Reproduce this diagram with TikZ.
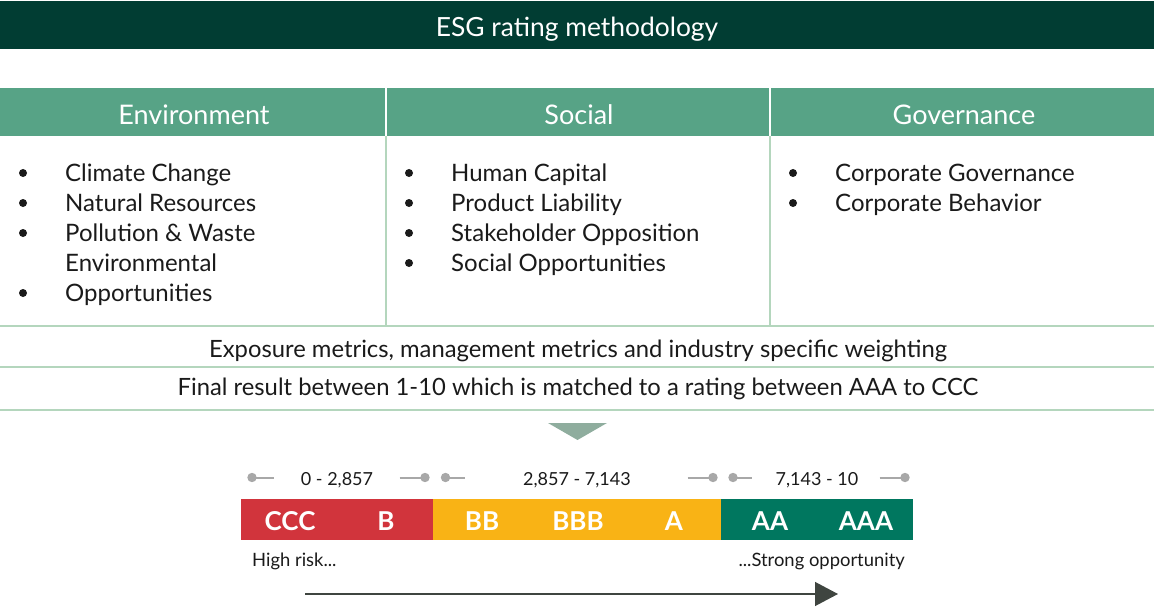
\documentclass[tikz,border=0pt]{standalone}
\usepackage{fontspec}
\setmainfont{Lato}
\usetikzlibrary{arrows.meta}
\definecolor{darkg}{HTML}{013D33}
\definecolor{headg}{HTML}{57A386}
\definecolor{lineg}{HTML}{B4D6BD}
\definecolor{trig}{HTML}{8FAD9E}
\definecolor{redr}{HTML}{D1343C}
\definecolor{yelr}{HTML}{F9B315}
\definecolor{tealr}{HTML}{00775F}
\definecolor{dotg}{HTML}{A8A8A8}
\definecolor{arrg}{HTML}{3F4540}
\definecolor{txt}{HTML}{1A1A1A}
\tikzset{
  hdr/.style={font=\fontsize{27}{30}\selectfont, text=white, anchor=center},
  ttl/.style={font=\fontsize{26.4}{30}\selectfont, text=white, anchor=center},
  item/.style={font=\fontsize{24}{30}\selectfont, text=txt, anchor=base west, inner sep=0pt},
  rowtxt/.style={font=\fontsize{23.8}{27}\selectfont, text=txt, anchor=center},
  rng/.style={font=\fontsize{18}{21}\selectfont, text=txt, anchor=center},
  grade/.style={font=\bfseries\fontsize{26}{29}\selectfont, text=white, anchor=center},
  captxt/.style={font=\fontsize{18.4}{21}\selectfont, text=txt},
  sep/.style={draw=lineg, line width=2.5pt},
  mk/.style={draw=dotg, line width=2pt},
}
\begin{document}
\begin{tikzpicture}[x=1pt,y=-1pt]
\useasboundingbox (0,0) rectangle (1154,607);
% title bar
\fill[darkg] (0,1) rectangle (1154,49);
\node[ttl] (title) at (577,29) {ESG rating methodology};
% header row
\fill[headg] (0,88) rectangle (1154,136);
\draw[white, line width=2pt] (386,88) -- (386,136);
\draw[white, line width=2pt] (770,88) -- (770,136);
\node[hdr] (env) at (194,115) {Environment};
\node[hdr] (soc) at (579,115) {Social};
\node[hdr] (gov) at (964,115) {Governance};
% body dividers
\draw[sep] (386,136) -- (386,326);
\draw[sep] (770,136) -- (770,326);
\draw[sep] (0,326) -- (1154,326);
\draw[sep] (0,367) -- (1154,367);
\draw[sep] (0,410) -- (1154,410);
% bullets
\foreach \y in {173,203,233,293} \fill[txt] (23,\y) circle (4);
\foreach \y in {173,203,233,263} \fill[txt] (409,\y) circle (4);
\foreach \y in {173,203} \fill[txt] (793,\y) circle (4);
% items
\node[item] (e1) at (65,181) {Climate Change};
\node[item] (e2) at (65,211) {Natural Resources};
\node[item] (e3) at (65,241) {Pollution \& Waste};
\node[item] (e4) at (65,271) {Environmental};
\node[item] (e5) at (65,301) {Opportunities};
\node[item] (s1) at (451,181) {Human Capital};
\node[item] (s2) at (451,211) {Product Liability};
\node[item] (s3) at (451,241) {Stakeholder Opposition};
\node[item] (s4) at (451,271) {Social Opportunities};
\node[item] (g1) at (835,181) {Corporate Governance};
\node[item] (g2) at (835,211) {Corporate Behavior};
% rows
\node[rowtxt] (row1) at (578,351) {Exposure metrics, management metrics and industry specific weighting};
\node[rowtxt] (row2) at (578,389) {Final result between 1-10 which is matched to a rating between AAA to CCC};
% triangle
\fill[trig] (548,423) -- (607,423) -- (577.5,440) -- cycle;
% range markers
\foreach \a/\b in {252/274, 445.5/465, 733/752}{
  \draw[mk] (\a,477.5) -- (\b,477.5);
  \fill[dotg] (\a,477.5) circle (4.7);
}
\foreach \a/\b in {399.5/425, 687.5/713, 879.5/905}{
  \draw[mk] (\a,477.5) -- (\b,477.5);
  \fill[dotg] (\b,477.5) circle (4.7);
}
\node[rng] (r1) at (337,480) {0 - 2,857};
\node[rng] (r2) at (577,480) {2,857 - 7,143};
\node[rng] (r3) at (817,480) {7,143 - 10};
% rating bar
\fill[redr] (241,499) rectangle (433,540);
\fill[yelr] (433,499) rectangle (721,540);
\fill[tealr] (721,499) rectangle (913,540);
\node[grade] (ccc) at (290,521.5) {CCC};
\node[grade] (b) at (386,521.5) {B};
\node[grade] (bb) at (482,521.5) {BB};
\node[grade] (bbb) at (578,521.5) {BBB};
\node[grade] (a) at (674,521.5) {A};
\node[grade] (aa) at (770,521.5) {AA};
\node[grade] (aaa) at (866,521.5) {AAA};
\node[captxt, anchor=west, inner sep=0pt] (hr) at (252,561) {High risk...};
\node[captxt, anchor=east, inner sep=0pt] (so) at (905,561) {...Strong opportunity};
% arrow
\coordinate (as) at (305,594);
\coordinate (ae) at (838,594);
\draw[arrg, line width=1.3pt, -{Triangle[length=23pt,width=24pt]}] (as) -- (ae);
\end{tikzpicture}
\end{document}
